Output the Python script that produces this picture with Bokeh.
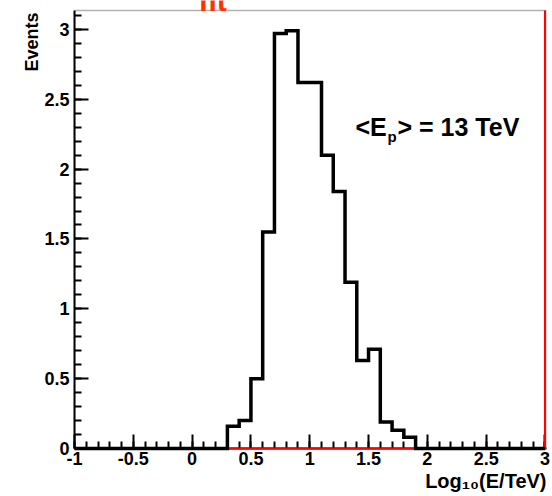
import numpy as np
from bokeh.plotting import figure
from bokeh.models import Label, FixedTicker, Range1d, Title, BoxAnnotation
from bokeh.embed import file_html
from bokeh.resources import INLINE

# ---- data ----
bin_low = [0.3, 0.4, 0.5, 0.6, 0.7, 0.8, 0.9, 1.0, 1.1, 1.2, 1.3, 1.4, 1.5, 1.6, 1.7, 1.8]
bin_width = 0.1
events = [0.16, 0.20, 0.50, 1.55, 2.97, 2.99, 2.62, 2.62, 2.10, 1.84, 1.19, 0.63, 0.71, 0.19, 0.13, 0.08]

x_ticks = [-1, -0.5, 0, 0.5, 1, 1.5, 2, 2.5, 3]
x_tick_labels = ["-1", "-0.5", "0", "0.5", "1", "1.5", "2", "2.5", "3"]
y_ticks = [0, 0.5, 1, 1.5, 2, 2.5, 3]
y_tick_labels = ["0", "0.5", "1", "1.5", "2", "2.5", "3"]

fit_x = [-1.0, 3.0, 3.0]
fit_y = [0.0, 0.0, 3.135]

x_lo, x_hi = -1.0, 3.0
x_right = 3.013          # frame right edge (data units)
y_top = 3.135            # top of the drawn box (data units)
y_view_top = 3.207       # a little headroom above the box for the clipped title

FONT = "Liberation Sans"
W, H = 552, 496
FL, FR, FT, FB = 74, 546, 0, 448   # frame edges in pixels

p = figure(width=W, height=H, x_range=Range1d(x_lo, x_right), y_range=Range1d(0, y_view_top),
           output_backend="svg", toolbar_location=None,
           min_border_left=FL, min_border_right=W - FR,
           min_border_top=FT, min_border_bottom=H - FB)
p.xgrid.visible = False
p.ygrid.visible = False
p.background_fill_color = "white"
p.border_fill_color = "white"
p.outline_line_color = None

# the visible plot box
p.add_layout(BoxAnnotation(left=x_lo, right=x_right, bottom=0, top=y_top,
                           fill_color=None, line_color="black", line_width=1.5))

# red fit function (flat at zero, then up the right edge)
p.line(fit_x, fit_y, line_color="#ff0000", line_width=2, level="overlay")

# histogram outline
edges = np.array(bin_low + [bin_low[-1] + bin_width])
xs = np.concatenate([[x_lo], np.repeat(edges, 2), [x_hi]])
ys = np.concatenate([[0, 0], np.repeat(events, 2), [0, 0]])
p.line(xs, ys, line_color="black", line_width=3.5, line_join="miter", level="overlay")

# axes
minor_x = [round(v, 2) for v in np.arange(-1, 3.001, 0.1)]
minor_y = [round(v, 2) for v in np.arange(0, 3.101, 0.1)]
p.xaxis.ticker = FixedTicker(ticks=x_ticks, minor_ticks=minor_x)
p.yaxis.ticker = FixedTicker(ticks=y_ticks, minor_ticks=minor_y)
p.yaxis.bounds = (0, y_top)
p.xaxis.major_label_overrides = {t: l for t, l in zip(x_ticks, x_tick_labels)}
p.yaxis.major_label_overrides = {t: l for t, l in zip(y_ticks, y_tick_labels)}
for ax in (p.xaxis, p.yaxis):
    ax.axis_line_width = 2
    ax.axis_line_color = "black"
    ax.major_tick_in = 14
    ax.major_tick_out = 0
    ax.minor_tick_in = 7
    ax.minor_tick_out = 0
    ax.major_tick_line_width = 2
    ax.minor_tick_line_width = 2
    ax.major_label_text_font = FONT
    ax.major_label_text_font_style = "bold"
    ax.major_label_text_font_size = "18px"
    ax.major_label_text_color = "black"
p.xaxis.major_label_standoff = 3
p.yaxis.major_label_standoff = 5

# axis titles (ROOT style: at the far end of each axis)
p.add_layout(Title(text="Events", align="right", offset=12, standoff=0, text_color="black",
                   text_font=FONT, text_font_style="bold", text_font_size="18px"), "left")
p.add_layout(Title(text="Log\u2081\u2080(E/TeV)", align="right", standoff=0, text_color="black",
                   text_font=FONT, text_font_style="bold", text_font_size="20px"), "below")

def lab(text, x, yc, size, color="black"):
    # x: left edge, yc: vertical middle, in pixels from the top-left of the chart
    p.add_layout(Label(x=x - FL, y=FB - yc, x_units="screen", y_units="screen", text=text,
                       text_font=FONT, text_font_style="bold", text_font_size=size,
                       text_color=color, text_align="left", text_baseline="middle"))

# annotation <E_p> = 13 TeV
lab("<E", 355, 126, "25px")
lab("p", 387, 136, "15px")
lab("> = 13 TeV", 397, 126, "25px")
# clipped red title at the top
lab("fit", 198, 0, "30px", color="#ff3300")

open("out.html", "w").write(file_html(p, INLINE))
